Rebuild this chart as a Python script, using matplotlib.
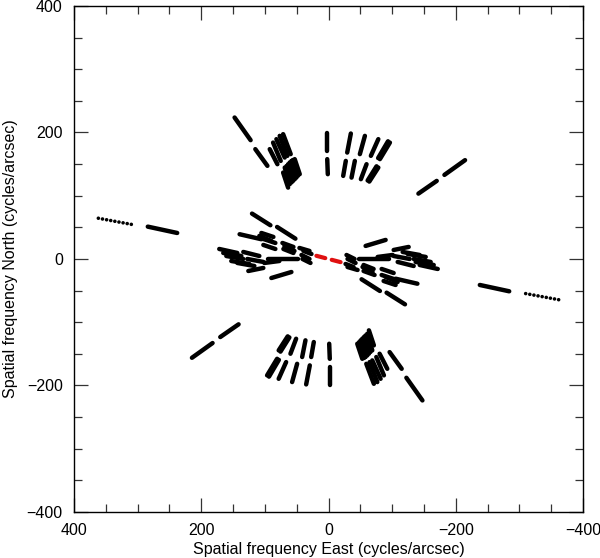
"""
uv-coverage plot: baseline tracks in spatial frequency, with the
point-symmetric counterparts (-u, -v) drawn too.
"""

import numpy as np
import matplotlib
matplotlib.use("Agg")
import matplotlib.pyplot as plt
from matplotlib.ticker import MultipleLocator

# one half of the tracks, (u, v) in cycles/arcsec, start -> end
u_start = [147.6, 115.0,
           71.3, 76.7, 81.9, 87.1, 92.4,
           53.1, 56.0, 58.3, 61.0, 63.5, 66.0, 68.8, 71.3,
           3.1, 2.0,
           -35.1, -27.2,
           -57.2, -41.4,
           -78.3, -59.8,
           -96.5, -93.5, -78.3, -75.5,
           -141.3, -182.2,
           120.2, 80.8,
           139.7, 105.5, 102.4, 102.4, 108.7,
           72.4, 70.9, 69.3, 45.7, 42.5, 39.4, 40.9,
           171.7, 133.9, 160.6, 127.6, 143.3, 126.0, 100.8, 89.8,
           165.4, 152.8,
           94.5, 284.0]
v_start = [223.6, 173.6,
           197.3, 194.6, 189.4, 184.0, 173.6,
           157.8, 156.5, 155.0, 152.5, 149.8, 147.0, 144.5, 136.6,
           199.8, 157.8,
           198.3, 155.0,
           194.6, 155.0,
           189.4, 149.8,
           184.0, 186.0, 144.5, 146.5,
           103.3, 132.9,
           71.7, 50.6,
           39.1, 41.1, 31.6, 22.2, 36.4,
           25.3, 15.8, 20.6, 17.4, 6.3, 12.7, 0.0,
           15.8, 11.1, 4.7, 0.0, -6.3, -19.0, -6.3, -30.1,
           9.5, -3.2,
           0.0, 51.1]
u_end = [122.4, 96.0,
         59.4, 64.6, 68.8, 75.1, 80.3,
         45.2, 48.0, 50.4, 53.0, 55.6, 58.0, 60.9, 63.5,
         3.1, 1.1,
         -29.4, -23.1,
         -49.3, -36.2,
         -66.6, -50.9,
         -80.8, -78.0, -64.1, -61.5,
         -170.1, -214.6,
         91.3, 52.0,
         105.5, 86.6, 83.5, 83.5, 89.8,
         55.1, 55.1, 53.5, 29.9, 29.9, 26.8, 28.3,
         143.3, 108.7, 133.9, 102.4, 116.5, 102.4, 77.2, 58.3,
         137.0, 124.4,
         47.2, 237.8]
v_end = [187.8, 147.2,
         165.7, 163.0, 160.3, 155.0, 149.8,
         134.0, 131.5, 128.6, 126.0, 123.4, 121.0, 118.2, 112.8,
         170.9, 134.0,
         168.2, 131.3,
         165.7, 128.6,
         163.0, 126.1,
         157.8, 159.5, 122.3, 124.0,
         123.4, 156.2,
         53.3, 32.1,
         31.2, 34.8, 25.3, 15.8, 28.5,
         19.0, 9.5, 12.7, 12.7, 0.0, 7.9, -6.3,
         9.5, 4.7, 0.0, -4.7, -11.1, -14.2, -3.2, -20.6,
         4.7, -7.9,
         0.0, 41.1]

# the longest baseline, sampled sparsely (drawn dotted)
u_dot = [361.7, 305.0]
v_dot = [64.4, 53.8]

# the shortest baseline (red)
u_red = [19.0, 3.0]
v_red = [5.0, 0.8]

plt.rcParams['font.family'] = ['Liberation Sans', 'DejaVu Sans']

fig = plt.figure(figsize=(6.0, 5.58), dpi=100)
ax = fig.add_axes([0.1233, 0.0824, 0.8484, 0.907])

for sign in (1, -1):
    for a, b, c, d in zip(u_start, v_start, u_end, v_end):
        ax.plot([sign * a, sign * c], [sign * b, sign * d], color='black',
                lw=3.2, solid_capstyle='round')
    ax.plot([sign * u for u in u_dot], [sign * v for v in v_dot],
            color='black', lw=2.6, linestyle=(0, (0.01, 1.15)),
            dash_capstyle='round')
    ax.plot([sign * u for u in u_red], [sign * v for v in v_red],
            color='#e01010', lw=3.0, linestyle=(0, (2.2, 1.0)),
            dash_capstyle='round')

ax.set_xlim(400, -400)
ax.set_ylim(-400, 400)

ax.xaxis.set_major_locator(MultipleLocator(200))
ax.xaxis.set_minor_locator(MultipleLocator(50))
ax.yaxis.set_major_locator(MultipleLocator(200))
ax.yaxis.set_minor_locator(MultipleLocator(50))
ax.tick_params(which='both', direction='in', top=True, right=True,
               color='#333333', labelsize=11.5)
ax.tick_params(which='major', length=10, width=0.9, pad=8)
ax.tick_params(which='minor', length=5.5, width=0.9)
for sp in ax.spines.values():
    sp.set_linewidth(1.0)

ax.set_xlabel('Spatial frequency East (cycles/arcsec)', fontsize=11.5,
              labelpad=3)
ax.set_ylabel('Spatial frequency North (cycles/arcsec)', fontsize=11.5,
              labelpad=6)

fig.savefig('out.png', dpi=100)
